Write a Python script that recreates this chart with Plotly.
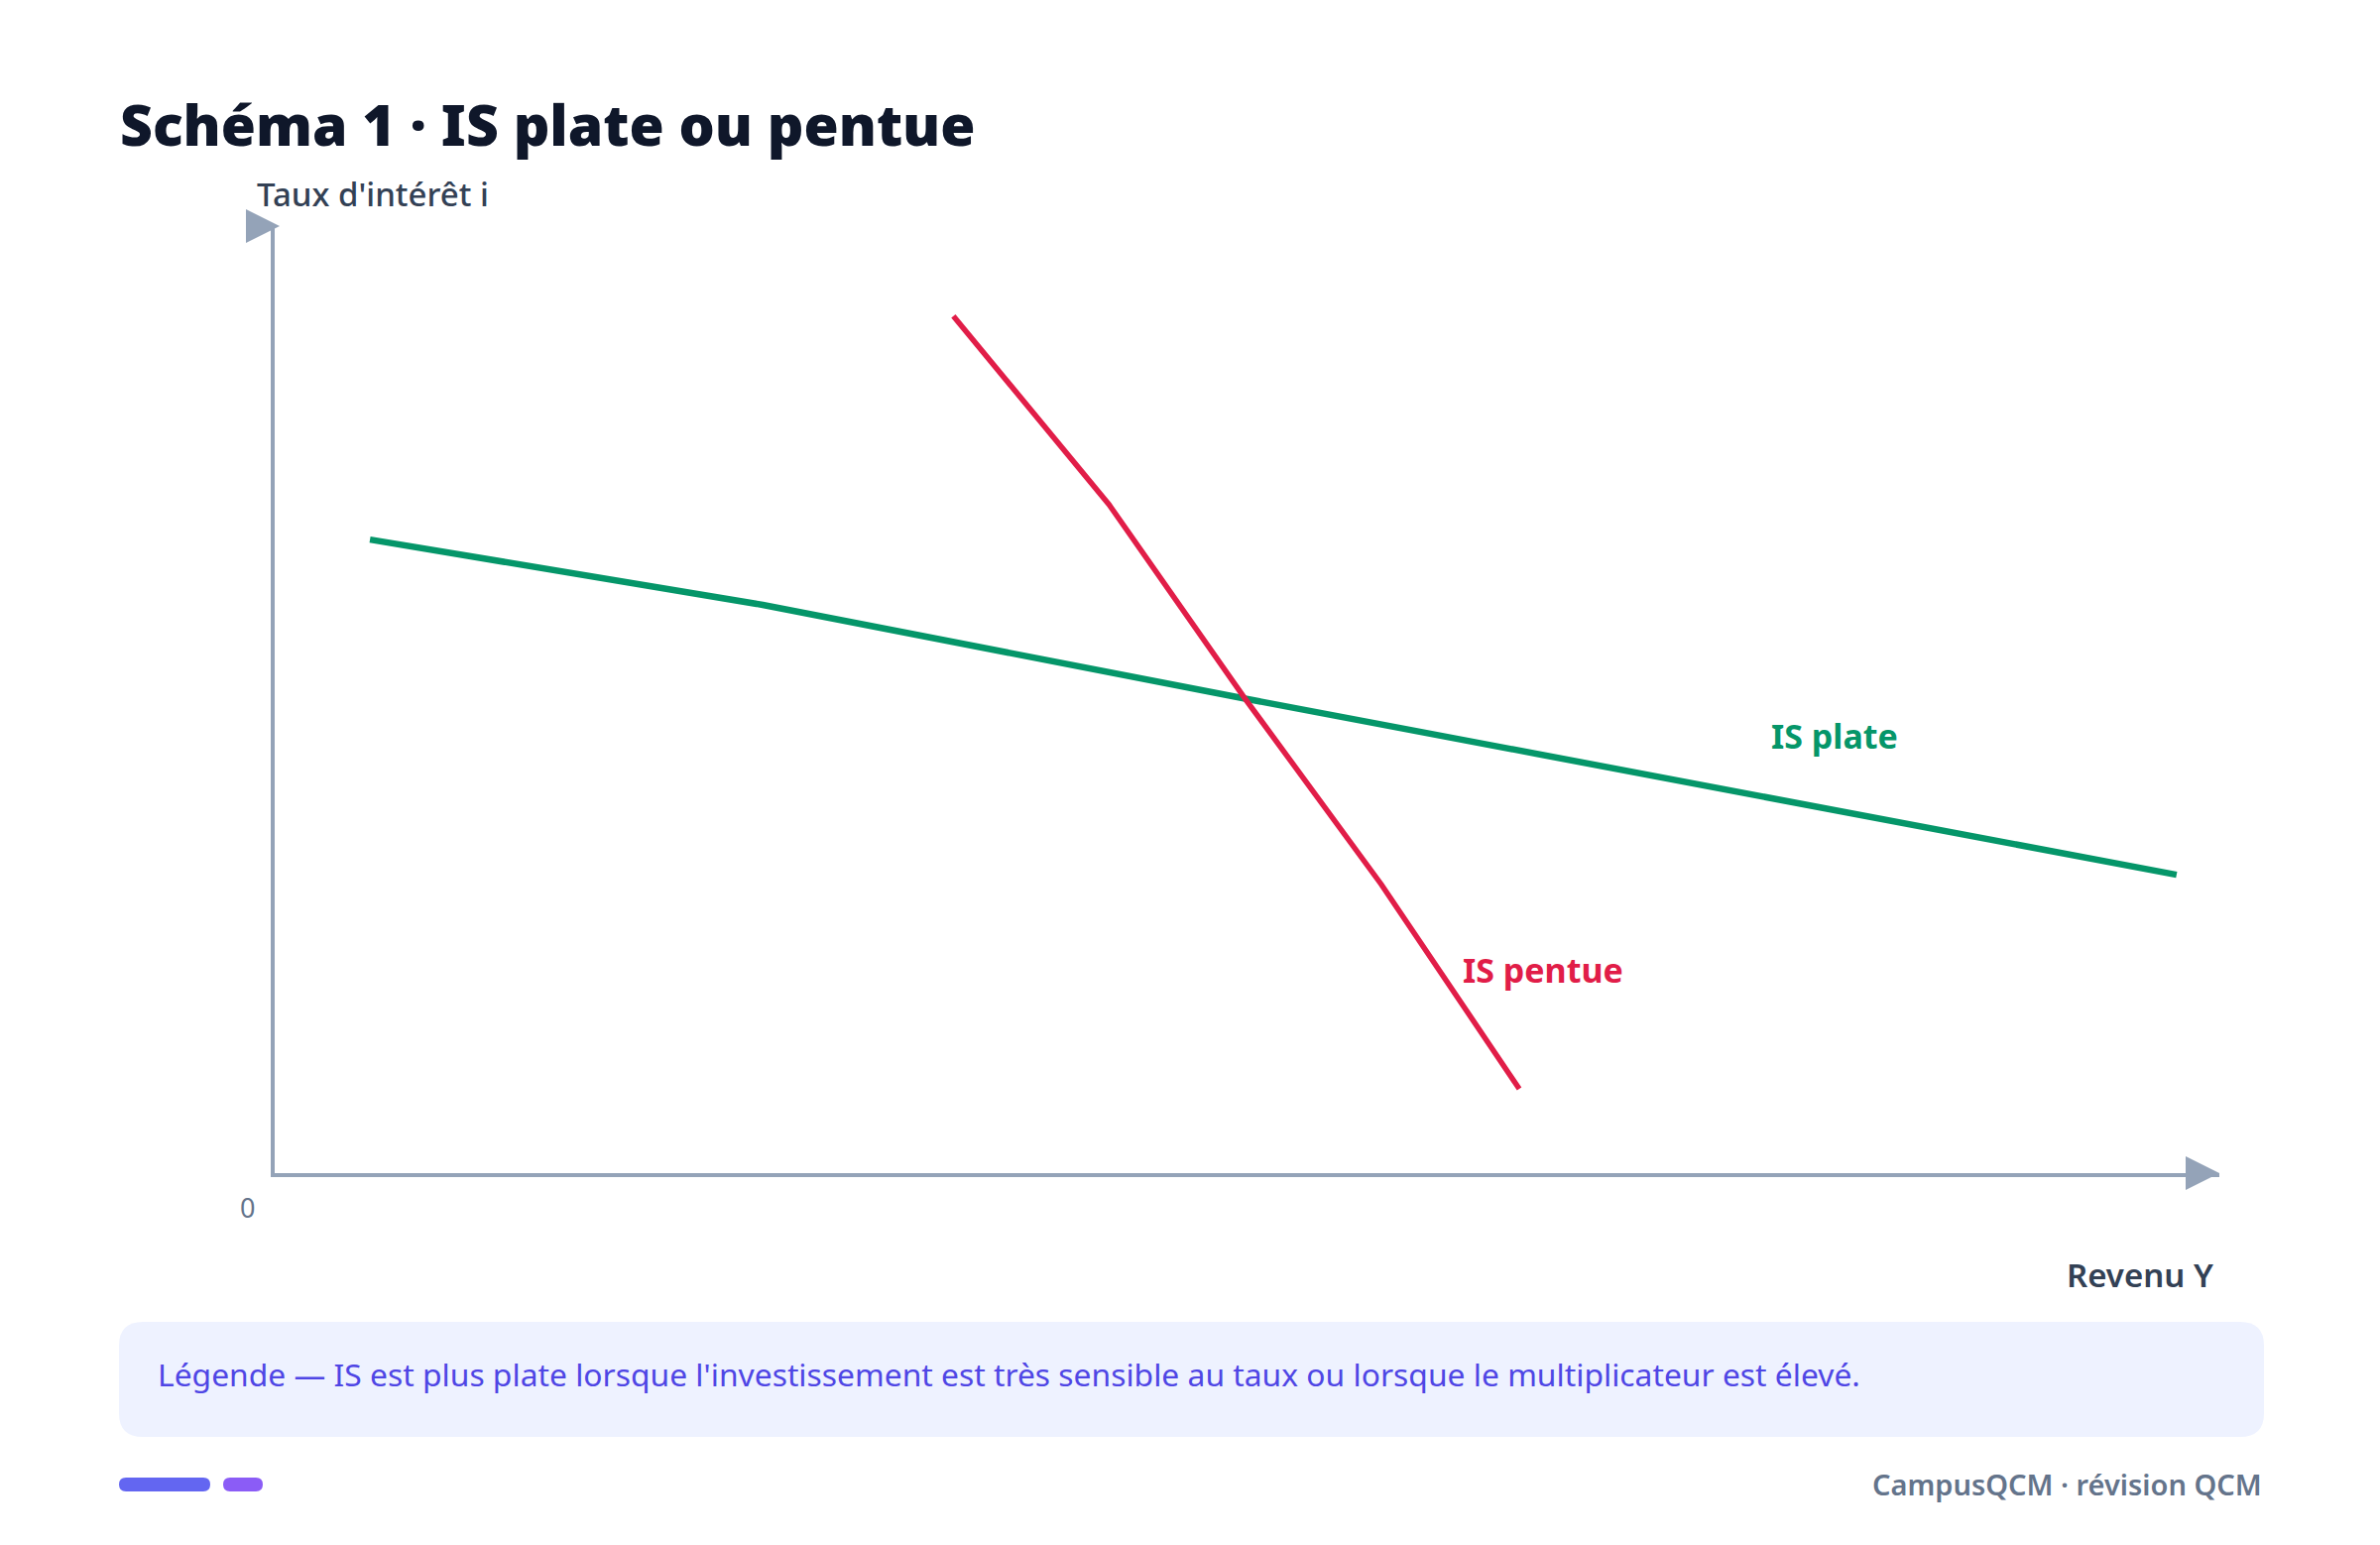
import plotly.graph_objects as go

# IS curves (axes run from 0 to 100)
is_plate_x = [4.9, 25.1, 49.9, 97.8]
is_plate_y = [66.9, 60.0, 50.1, 31.5]
is_pentue_x = [34.9, 42.9, 49.9, 56.9, 64.0]
is_pentue_y = [90.5, 70.6, 50.1, 30.5, 8.9]

title_text = "Schéma 1 · IS plate ou pentue"
x_label = "Revenu Y"
y_label = "Taux d'intérêt i"
origin_label = "0"
curve_labels = ["IS plate", "IS pentue"]
legend_text = ("Légende — IS est plus plate lorsque l'investissement est très sensible "
               "au taux ou lorsque le multiplicateur est élevé.")
footer_text = "CampusQCM · révision QCM"

GREEN = "#059669"
RED = "#e11d48"
AXIS = "#94a3b8"
FONT = "Noto Sans"

# page is 2400x1558, the body keeps an 8px margin round the figure
OFF = 8
W, H = 2400 - 2 * OFF, 1558 - 2 * OFF
L, R, T, B = 277 - OFF, 162 - OFF, 228 - OFF, 375 - OFF


def px(xp):
    # page pixel -> paper x
    return (xp - OFF - L) / (W - L - R)


def py(yp):
    # page pixel -> paper y
    return (H - B - (yp - OFF)) / (H - T - B)


def rounded(w, h, r):
    a, b = w / 2, h / 2
    return (f"M {-a + r} {-b} L {a - r} {-b} Q {a} {-b} {a} {-b + r} "
            f"L {a} {b - r} Q {a} {b} {a - r} {b} L {-a + r} {b} "
            f"Q {-a} {b} {-a} {b - r} L {-a} {-b + r} Q {-a} {-b} {-a + r} {-b} Z")


fig = go.Figure()
fig.add_trace(go.Scatter(x=is_plate_x, y=is_plate_y, mode="lines",
                         line=dict(color=GREEN, width=6.5), hoverinfo="skip"))
fig.add_trace(go.Scatter(x=is_pentue_x, y=is_pentue_y, mode="lines",
                         line=dict(color=RED, width=5.5), hoverinfo="skip"))


def pixel_shape(x, y, path, color, layer="above"):
    return dict(type="path", xref="paper", yref="paper", xsizemode="pixel",
                ysizemode="pixel", xanchor=x, yanchor=y, path=path,
                fillcolor=color, line=dict(width=0), layer=layer)


shapes = [
    # arrow heads of the axes
    pixel_shape(1, 0, "M -34 -17 L 0 0 L -34 17 Z", AXIS),
    pixel_shape(0, 1, "M -29 -17 L 5 0 L -29 17 Z", AXIS),
    # legend box
    pixel_shape(px(1201.5), py(1391), rounded(2163, 116, 24), "#eef2ff", "below"),
    # footer pills
    pixel_shape(px(166), py(1497), rounded(92, 14, 7), "#6366f1"),
    pixel_shape(px(245), py(1497), rounded(40, 14, 7), "#8b5cf6"),
]

annotations = [
    dict(text=y_label, x=px(257), y=py(195), xanchor="left", yanchor="middle",
         font=dict(size=33, color="#334155", weight=500)),
    dict(text=x_label, x=px(2234), y=py(1285), xanchor="right", yanchor="middle",
         font=dict(size=33, color="#334155", weight=600)),
    dict(text=origin_label, x=px(249), y=py(1217), xanchor="center", yanchor="middle",
         font=dict(size=27, color="#64748b")),
    dict(text=curve_labels[0], x=px(1784), y=py(742), xanchor="left", yanchor="middle",
         font=dict(size=34, color=GREEN, weight=700)),
    dict(text=curve_labels[1], x=px(1473), y=py(978), xanchor="left", yanchor="middle",
         font=dict(size=34, color=RED, weight=700)),
    dict(text=legend_text, x=px(157), y=py(1385), xanchor="left", yanchor="middle",
         font=dict(size=31.8, color="#4f46e5")),
    dict(text=footer_text, x=px(2283), y=py(1497), xanchor="right", yanchor="middle",
         font=dict(size=29, color="#64748b", weight=600)),
]
for a in annotations:
    a.update(xref="paper", yref="paper", showarrow=False)

axis_style = dict(showline=True, linecolor=AXIS, linewidth=4, showgrid=False,
                  zeroline=False, showticklabels=False, ticks="", fixedrange=True)

fig.update_layout(
    width=W, height=H,
    margin=dict(l=L, r=R, t=T, b=B),
    paper_bgcolor="white", plot_bgcolor="white",
    showlegend=False,
    font=dict(family=FONT),
    title=dict(text=title_text, xref="container", yref="container",
               x=(121 - OFF) / W, xanchor="left", y=1 - (127 - OFF) / H,
               yanchor="middle",
               font=dict(size=57, color="#0f172a", weight=900)),
    xaxis=dict(range=[0, 100], **axis_style),
    yaxis=dict(range=[0, 100], **axis_style),
    shapes=shapes,
    annotations=annotations,
)

fig.write_html("out.html")
